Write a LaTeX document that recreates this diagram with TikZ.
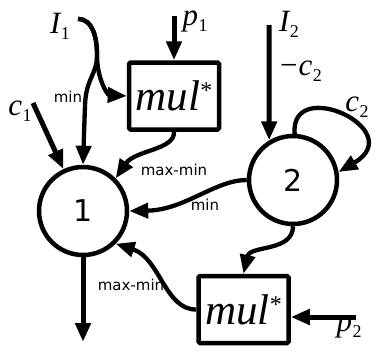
\documentclass[tikz,border=0pt]{standalone}
\usepackage{fontspec}
\setsansfont{DejaVu Sans}
\newfontfamily\mulfont{Liberation Serif}
\newcommand{\varlab}[2]{{\mulfont\fontsize{31}{31}\selectfont\itshape #1}\kern0.5pt\raisebox{-6pt}{\mulfont\fontsize{18}{18}\selectfont #2}}
\usetikzlibrary{arrows.meta}
\begin{document}
\begin{tikzpicture}[x=1pt,y=-1pt,
  tip/.style={-{Triangle[length=19pt,width=15pt]}},
  conn/.style={line width=4.3pt,tip},
  sconn/.style={line width=5pt,tip},
  circ/.style={circle,draw,line width=4.5pt,minimum size=88pt,inner sep=0pt,font=\sffamily\fontsize{30}{30}\selectfont},
  mulbox/.style={draw,line width=4.5pt,rounded corners=1.5pt,minimum width=90pt,minimum height=67pt,inner sep=0pt,font=\mulfont\itshape\fontsize{43}{43}\selectfont},
  lab/.style={font=\sffamily\fontsize{15}{15}\selectfont,inner sep=0pt},
  mlab/.style={inner sep=0pt}]
\useasboundingbox (0,0) rectangle (379,351);
\node[circ] (c1) at (83,211) {1};
\node[circ] (c2) at (293,180) {2};
\node[mulbox] (m1) at (174,96) {mul\raisebox{12pt}{\fontsize{24}{24}\selectfont\upshape*}};
\node[mulbox] (m2) at (243.5,309.5) {mul\raisebox{12pt}{\fontsize{24}{24}\selectfont\upshape*}};
% coordinates of free ends
\coordinate (I1s) at (78,19);
\coordinate (J) at (97,55);
\coordinate (c1s) at (33,103);
\coordinate (out) at (83,342);
\coordinate (p1s) at (174,16);
\coordinate (I2s) at (269,25);
\coordinate (p2s) at (356,317);
% connectors
\draw[conn] (I1s) .. controls (93,19) and (97,38) .. (J) .. controls (97,75) and (86,78) .. (85,105) -- (c1.north);
\draw[conn] (I1s) .. controls (93,19) and (97,38) .. (J) .. controls (97,80) and (108,95) .. (m1.west);
\draw[conn] (m1.south) .. controls (175,150) and (135,150) .. (c1.45);
\draw[conn] (c2.west) .. controls (215,180) and (185,210) .. (c1.east);
\draw[conn] (c2.south) .. controls (293,252) and (250,245) .. (m2.north);
\draw[conn] (m2.west) .. controls (165,310) and (160,258) .. (c1.-45);
\draw[conn] (c2.88) .. controls (290,75) and (410,130) .. (c2.10);
\draw[sconn] (c1s) -- (c1.115);
\draw[sconn] (c1.south) -- (out);
\draw[sconn] (p1s) -- (m1.north);
\draw[sconn] (I2s) -- (c2.121);
\draw[sconn] (p2s) -- (p2s -| m2.east);
% labels
\node[mlab] (lI1) at (60,26) {\varlab{I}{1}};
\node[mlab] (lp1) at (195,21) {\varlab{p}{1}};
\node[mlab] (lc1) at (20,111) {\varlab{c}{1}};
\node[mlab] (lI2) at (289,24) {\varlab{I}{2}};
\node[mlab] (lmc2) at (301,71) {{\mulfont\fontsize{31}{31}\selectfont −}\kern1pt\varlab{c}{2}};
\node[mlab] (lc2) at (357,107) {\varlab{c}{2}};
\node[mlab] (lp2) at (349,327) {\varlab{p}{2}};
\node[lab] (lmin1) at (68,97) {min};
\node[lab] (lmm1) at (174,170) {max-min};
\node[lab] (lmin2) at (205,205) {min};
\node[lab] (lmm2) at (131,285) {max-min};
\end{tikzpicture}
\end{document}
